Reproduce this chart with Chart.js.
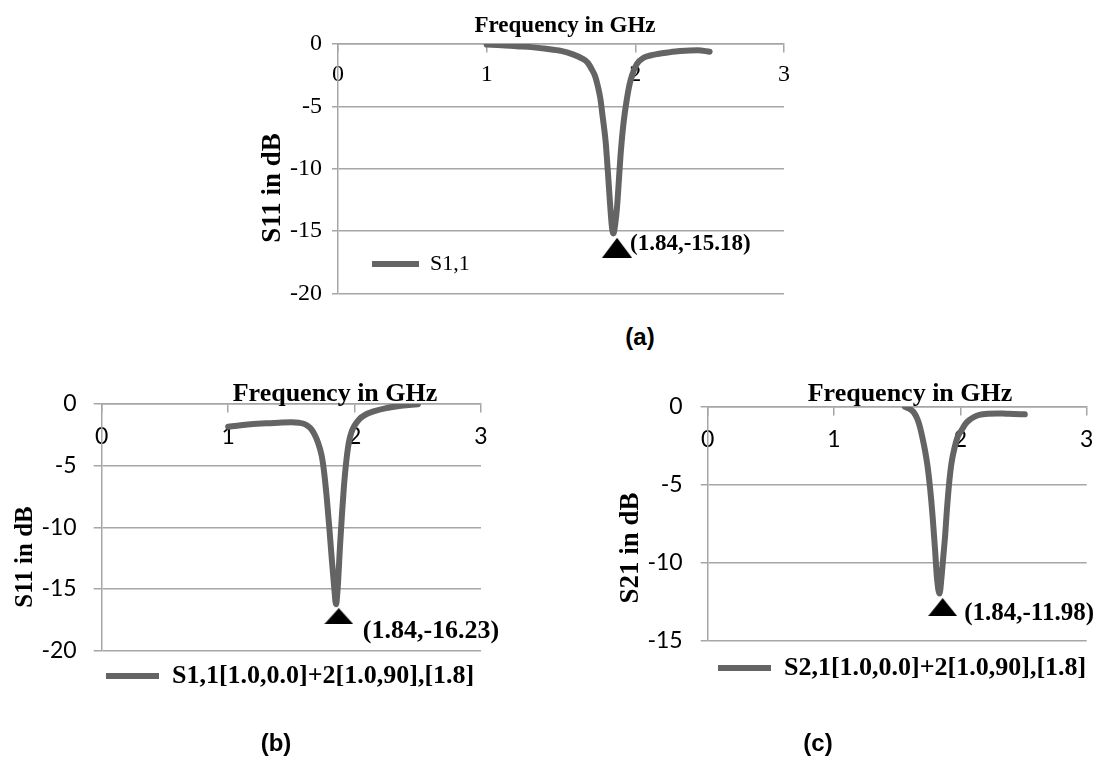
<!DOCTYPE html>
<html><head><meta charset="utf-8">
<script src="https://cdn.jsdelivr.net/npm/chart.js@4.4.1/dist/chart.umd.min.js"></script>
<style>
html,body{margin:0;padding:0;background:#fff;}
body{width:1111px;height:762px;position:relative;overflow:hidden;}
canvas{position:absolute;}
.sub{position:absolute;font-family:"Liberation Sans",Arial,sans-serif;font-weight:bold;font-size:24px;color:#000;transform:translate(-50%,-50%);white-space:nowrap;line-height:1;}
</style></head><body>
<canvas id="ca" width="580" height="318" style="left:230px;top:0px"></canvas>
<canvas id="cb" width="530" height="400" style="left:0px;top:360px"></canvas>
<canvas id="cc" width="531" height="400" style="left:580px;top:360px"></canvas>
<div class="sub" id="la" style="left:640px;top:337px"></div>
<div class="sub" id="lb" style="left:276px;top:743px"></div>
<div class="sub" id="lc" style="left:818px;top:743px"></div>
<script>
// ---------- data ----------
const chartTitle = 'Frequency in GHz';
const panelLabels = ['(a)', '(b)', '(c)'];
const yTitles = ['S11 in dB', 'S11 in dB', 'S21 in dB'];
const seriesNames = ['S1,1', 'S1,1[1.0,0.0]+2[1.0,90],[1.8]', 'S2,1[1.0,0.0]+2[1.0,90],[1.8]'];
const xTicks = [0, 1, 2, 3];
const yTicksAB = [-20, -15, -10, -5, 0];
const yTicksC = [-15, -10, -5, 0];

const freqA = [1.00,1.10,1.20,1.30,1.40,1.50,1.58,1.64,1.68,1.71,1.73,1.75,1.765,1.78,1.80,1.815,1.83,1.843,1.853,1.865,1.876,1.89,1.90,1.92,1.944,1.96,1.978,2.01,2.056,2.10,2.15,2.22,2.30,2.42,2.50];
const s11A  = [-0.05,-0.10,-0.18,-0.25,-0.38,-0.55,-0.83,-1.15,-1.5,-2.1,-2.6,-3.5,-4.4,-5.8,-7.8,-10.2,-12.8,-14.7,-15.18,-14.4,-13.2,-10.8,-9.0,-6.4,-4.35,-3.3,-2.5,-1.6,-1.1,-0.92,-0.8,-0.68,-0.57,-0.5,-0.62];

const freqB = [1.00,1.10,1.20,1.30,1.40,1.50,1.56,1.61,1.65,1.68,1.71,1.74,1.76,1.78,1.80,1.82,1.84,1.853,1.866,1.885,1.90,1.915,1.935,1.955,1.975,2.00,2.04,2.08,2.15,2.25,2.35,2.43,2.50];
const s11B  = [-1.85,-1.72,-1.62,-1.57,-1.52,-1.48,-1.52,-1.65,-1.95,-2.4,-3.1,-4.2,-5.6,-7.6,-10.0,-12.6,-15.0,-16.23,-15.0,-11.5,-9.0,-6.8,-4.6,-3.1,-2.3,-1.75,-1.2,-0.9,-0.6,-0.33,-0.17,-0.08,-0.02];

const freqC = [1.56,1.60,1.63,1.66,1.68,1.70,1.72,1.74,1.76,1.78,1.80,1.815,1.835,1.85,1.865,1.88,1.89,1.91,1.93,1.955,1.98,2.01,2.04,2.07,2.11,2.15,2.22,2.29,2.36,2.42,2.51];
const s21C  = [0,-0.15,-0.35,-0.8,-1.3,-2.0,-2.8,-3.8,-5.2,-7.0,-9.2,-11.0,-11.98,-11.0,-9.6,-8.2,-7.0,-5.0,-3.6,-2.6,-1.9,-1.5,-1.1,-0.86,-0.65,-0.53,-0.45,-0.43,-0.45,-0.47,-0.49];

const markerFreq = [1.877, 1.875, 1.86];
const markerDb = [-16.33, -17.2, -12.84];
const markerLabels = ['(1.84,-15.18)', '(1.84,-16.23)', '(1.84,-11.98)'];

// ---------- styles / geometry ----------
const GRID = '#a6a6a6';
const CURVE = '#646464';
const SERIF = '"Liberation Serif", "Times New Roman", serif';
const SANS = 'Lato, "Open Sans", sans-serif';

const panels = [
  { id:'ca', freq:freqA, vals:s11A, yTicks:yTicksAB,
    pad:{left:48,right:26,top:44,bottom:18}, yW:60,
    tickFont:{family:SERIF,size:24}, yPad:10, yTickLen:6, xPad:8,
    titlePos:[335,32], titleFont:23, yTitlePos:[50,188], yTitleFont:27,
    labelOff:[13,2], labelFont:23,
    legendPos:[142,253], legendFont:{family:SERIF,size:22,weight:'normal'}, legendW:47, tri:[30,20] },
  { id:'cb', freq:freqB, vals:s11B, yTicks:yTicksAB,
    pad:{left:41.7,right:49,top:44,bottom:109.3}, yW:60,
    tickFont:{family:SANS,size:23}, yPad:17, yTickLen:8, xPad:11,
    titlePos:[335,41], titleFont:26, yTitlePos:[31.7,197], yTitleFont:25,
    labelOff:[24,22], labelFont:26,
    legendPos:[106,303], legendFont:{family:SERIF,size:26,weight:'bold'}, legendW:53, tri:[29,16] },
  { id:'cc', freq:freqC, vals:s21C, yTicks:yTicksC,
    pad:{left:67.7,right:24.3,top:46.7,bottom:119.3}, yW:60,
    tickFont:{family:SANS,size:23}, yPad:18, yTickLen:7, xPad:11.5,
    titlePos:[330,40.7], titleFont:26, yTitlePos:[58,188], yTitleFont:27,
    labelOff:[21.5,13], labelFont:25,
    legendPos:[138,295], legendFont:{family:SERIF,size:26,weight:'bold'}, legendW:53, tri:[29,18] }
];

function triangle(w, h) {
  const c = document.createElement('canvas');
  c.width = w; c.height = h;
  const g = c.getContext('2d');
  g.fillStyle = '#000';
  g.beginPath(); g.moveTo(0, h); g.lineTo(w / 2, 0); g.lineTo(w, h); g.closePath(); g.fill();
  return c;
}

panels.forEach((G, idx) => {
  document.getElementById(['la','lb','lc'][idx]).textContent = panelLabels[idx];

  const placeLegend = {
    id: 'placeLegend',
    afterLayout(chart) {
      const lg = chart.legend; if (!lg) return;
      const w = lg.width;
      lg.left = G.legendPos[0]; lg.top = G.legendPos[1];
      lg.right = lg.left + w; lg.bottom = lg.top + 200;
    }
  };
  const texts = {
    id: 'texts',
    afterDraw(chart) {
      const ctx = chart.ctx;
      ctx.save();
      ctx.fillStyle = '#000';
      ctx.textBaseline = 'alphabetic';
      ctx.textAlign = 'center';
      ctx.font = 'bold ' + G.titleFont + 'px ' + SERIF;
      ctx.fillText(chartTitle, G.titlePos[0], G.titlePos[1]);
      ctx.save();
      ctx.translate(G.yTitlePos[0], G.yTitlePos[1]);
      ctx.rotate(-Math.PI / 2);
      ctx.font = 'bold ' + G.yTitleFont + 'px ' + SERIF;
      ctx.fillText(yTitles[idx], 0, 0);
      ctx.restore();
      const pt = chart.getDatasetMeta(1).data[0];
      ctx.textAlign = 'left';
      ctx.font = 'bold ' + G.labelFont + 'px ' + SERIF;
      ctx.fillText(markerLabels[idx], pt.x + G.labelOff[0], pt.y + G.labelOff[1]);
      ctx.restore();
    }
  };

  new Chart(document.getElementById(G.id), {
    data: {
      datasets: [
        { type:'line', label: seriesNames[idx],
          data: G.freq.map((f, i) => ({ x: f, y: G.vals[i] })),
          borderColor: CURVE, backgroundColor: CURVE, borderWidth: 6,
          borderCapStyle: 'round', borderJoinStyle: 'round',
          pointRadius: 0, cubicInterpolationMode: 'monotone', order: 2 },
        { type:'scatter', label: 'marker',
          data: [{ x: markerFreq[idx], y: markerDb[idx] }],
          pointStyle: triangle(G.tri[0], G.tri[1]), pointRadius: 10, order: 1 }
      ]
    },
    options: {
      responsive: false, animation: false,
      layout: { padding: G.pad },
      scales: {
        x: { type:'linear', position: { y: 0 }, min: 0, max: 3,
          afterBuildTicks: s => { s.ticks = xTicks.map(v => ({ value: v })); },
          grid: { display: true, drawOnChartArea: false, drawTicks: true, tickLength: 8, color: GRID, lineWidth: 1.5 },
          border: { display: true, color: GRID, width: 1.5 },
          ticks: { font: G.tickFont, color: '#000', padding: G.xPad, maxRotation: 0, autoSkip: false } },
        y: { type:'linear', position: 'left', min: G.yTicks[0], max: 0,
          afterBuildTicks: s => { s.ticks = G.yTicks.map(v => ({ value: v })); },
          afterFit: s => { s.width = G.yW; },
          grid: { color: GRID, lineWidth: 1.5, tickLength: G.yTickLen, drawTicks: true },
          border: { display: true, color: GRID, width: 1.5 },
          ticks: { font: G.tickFont, color: '#000', padding: G.yPad } }
      },
      plugins: {
        title: { display: false },
        tooltip: { enabled: false },
        legend: { display: true, position: 'chartArea', align: 'start',
          labels: { usePointStyle: true, pointStyle: 'line', pointStyleWidth: G.legendW,
            padding: 0, font: G.legendFont, color: '#000',
            filter: item => item.datasetIndex === 0 } }
      }
    },
    plugins: [placeLegend, texts]
  });
});
</script>
</body></html>
